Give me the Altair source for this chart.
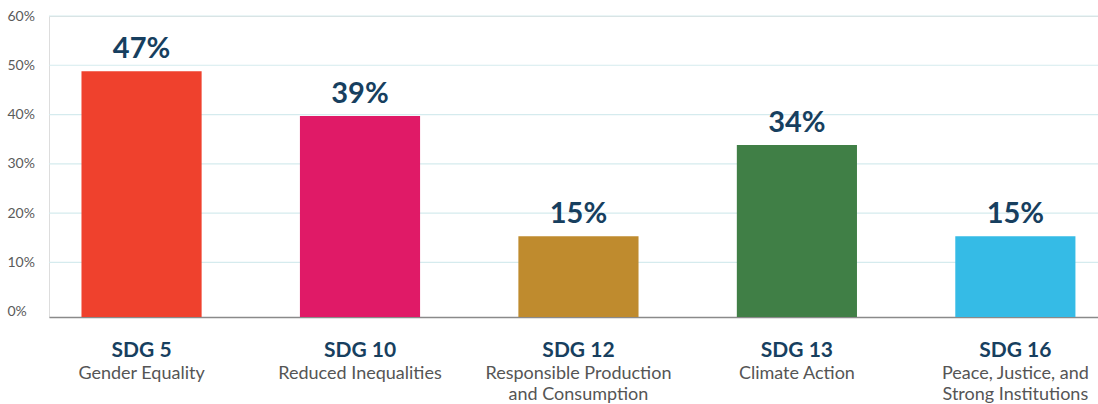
import altair as alt
import pandas as pd

codes = ["SDG 5", "SDG 10", "SDG 12", "SDG 13", "SDG 16"]
names = ["Gender Equality", "Reduced Inequalities", "Responsible Production\nand Consumption",
         "Climate Action", "Peace, Justice, and\nStrong Institutions"]
bar_values = [48.8, 39.7, 15.3, 33.8, 15.3]
labels = ["47%", "39%", "15%", "34%", "15%"]
colors = ["#EF412D", "#E01A67", "#BF8B2E", "#407F46", "#35BBE6"]
grid_values = [10, 20, 30, 40, 50, 60]
tick_values = [0, 10, 20, 30, 40, 50, 60]

W, H = 1049, 301
NAVY = "#173F5F"
FONT = "Lato"
YMIN = -1.1

df = pd.DataFrame({"code": codes, "name": names, "value": bar_values,
                   "label": labels, "color": colors})
grid = pd.DataFrame({"g": grid_values})

xs = alt.Scale(domain=codes, paddingInner=0.45, paddingOuter=0.126, align=0.59)
ys = alt.Scale(domain=[YMIN, 60], nice=False, zero=False)

xenc = alt.X("code:N", scale=xs, sort=codes,
             axis=alt.Axis(title=None, labels=False, ticks=False, domain=True,
                           domainColor="#8a8a8a", domainWidth=1.5, grid=False))

rules = alt.Chart(grid).mark_rule(color="#D5EBEE", strokeWidth=1.2).encode(
    y=alt.Y("g:Q", scale=ys,
            axis=alt.Axis(title=None, values=tick_values, format=".0f",
                          labelExpr="datum.value + '%'", labelAlign="left",
                          labelPadding=42, ticks=False, domain=False, grid=False,
                          labelFont=FONT, labelFontSize=14, labelColor="#5a5a5a")),
    x=alt.value(0), x2=alt.value(W))

bars = alt.Chart(df).mark_bar().encode(
    x=xenc,
    y=alt.Y("value:Q", scale=ys),
    y2=alt.datum(YMIN),
    color=alt.Color("color:N", scale=None))

vals = alt.Chart(df).mark_text(font=FONT, fontSize=29, fontWeight="bold", color=NAVY,
                               baseline="alphabetic", dy=-13).encode(
    x=alt.X("code:N", scale=xs, sort=codes), y=alt.Y("value:Q", scale=ys), text="label:N")

codes_t = alt.Chart(df).mark_text(font=FONT, fontSize=21, fontWeight="bold", color=NAVY,
                                  baseline="alphabetic").encode(
    x=alt.X("code:N", scale=xs, sort=codes), y=alt.value(H + 40), text="code:N")

names_t = alt.Chart(df).mark_text(font=FONT, fontSize=18, color="#555555",
                                  baseline="alphabetic", lineBreak="\n", lineHeight=21).encode(
    x=alt.X("code:N", scale=xs, sort=codes), y=alt.value(H + 62), text="name:N")

chart = alt.layer(rules, bars, vals, codes_t, names_t).properties(
    width=W, height=H, autosize=alt.AutoSizeParams(type="none"),
    padding={"left": 49, "top": 16, "right": 0, "bottom": 87}
).configure_view(stroke=None).configure(background="white")

chart.save("out.html", embed_options={"renderer": "svg", "actions": False})
